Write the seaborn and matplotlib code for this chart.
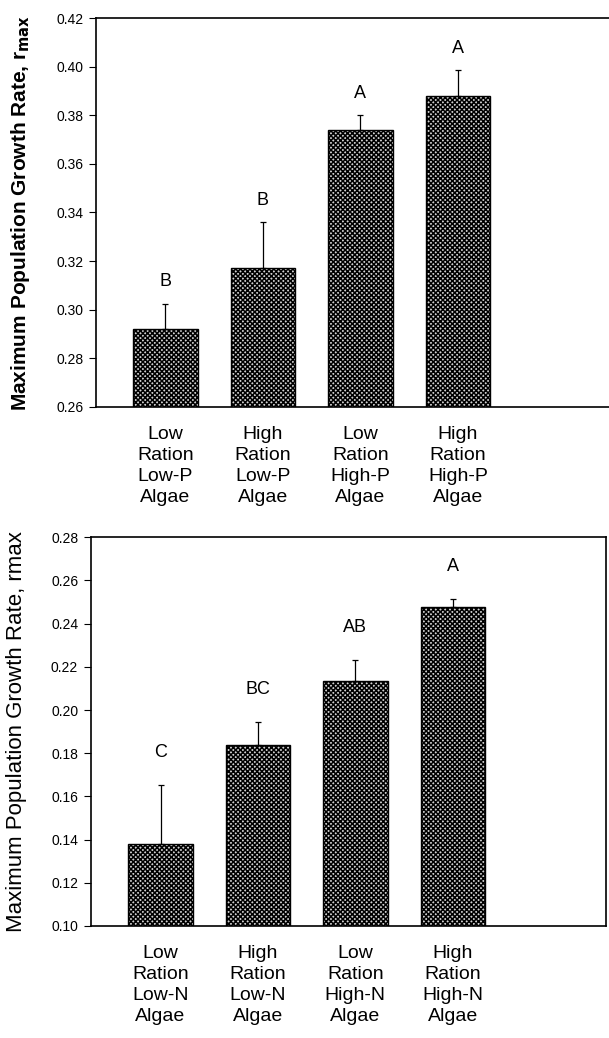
import matplotlib
matplotlib.use("Agg")
import matplotlib.pyplot as plt
import seaborn as sns

sns.set_style("white")
plt.rcParams['font.family'] = ['Liberation Sans', 'DejaVu Sans']
plt.rcParams['hatch.linewidth'] = 1.1
plt.rcParams['text.color'] = 'black'
plt.rcParams['axes.labelcolor'] = 'black'
plt.rcParams['xtick.color'] = 'black'
plt.rcParams['ytick.color'] = 'black'

# -----------------------------
# Data
# -----------------------------
p_labels = ["Low\nRation\nLow-P\nAlgae", "High\nRation\nLow-P\nAlgae",
            "Low\nRation\nHigh-P\nAlgae", "High\nRation\nHigh-P\nAlgae"]
p_rmax = [0.292, 0.317, 0.374, 0.388]
p_se = [0.0105, 0.019, 0.006, 0.0105]
p_groups = ["B", "B", "A", "A"]

n_labels = ["Low\nRation\nLow-N\nAlgae", "High\nRation\nLow-N\nAlgae",
            "Low\nRation\nHigh-N\nAlgae", "High\nRation\nHigh-N\nAlgae"]
n_rmax = [0.138, 0.184, 0.2135, 0.2475]
n_se = [0.0275, 0.0105, 0.0097, 0.0038]
n_groups = ["C", "BC", "AB", "A"]

fig = plt.figure(figsize=(6.09, 10.38), dpi=100)
ax1 = fig.add_axes([0.1576, 0.6082, 0.8424, 0.3742])
ax2 = fig.add_axes([0.1489, 0.1079, 0.8462, 0.3745])


def draw_panel(ax, labels, vals, errs, groups, ylim, yticks, letter_off, ylabel, bold, lsize, xlim):
    sns.barplot(x=labels, y=vals, ax=ax, color="#d0d0d0", edgecolor="black",
                linewidth=1.0, hatch="xxxxxxx", width=0.66, saturation=1)
    ax.errorbar(range(len(vals)), vals, yerr=[[0] * len(errs), errs], fmt="none",
                ecolor="black", elinewidth=0.9, capsize=2.5, capthick=0.9)
    for i, (v, e, g) in enumerate(zip(vals, errs, groups)):
        ax.text(i, v + e + letter_off, g, ha="center", va="center", fontsize=13)
    ax.set_ylim(*ylim)
    ax.set_xlim(*xlim)
    ax.set_yticks(yticks)
    ax.set_yticklabels([f"{t:.2f}" for t in yticks], fontsize=10)
    ax.tick_params(axis="y", direction="out", length=5, width=0.8, pad=4, left=True)
    ax.tick_params(axis="x", length=0, pad=14, labelsize=14)
    for lab in ax.get_xticklabels():
        lab.set_linespacing(1.3)
    ax.set_ylabel(ylabel, fontsize=lsize, fontweight="bold" if bold else "normal")
    for s in ax.spines.values():
        s.set_color("black")
        s.set_linewidth(1.2)


yt1 = [0.26, 0.28, 0.30, 0.32, 0.34, 0.36, 0.38, 0.40, 0.42]
draw_panel(ax1, p_labels, p_rmax, p_se, p_groups, (0.26, 0.42), yt1, 0.009,
           r"Maximum Population Growth Rate, r$_{\mathbf{max}}$", True, 15, (-0.713, 4.55))
ax1.spines["right"].set_visible(False)
ax1.yaxis.set_label_coords(-0.148, 0.5)

yt2 = [0.10, 0.12, 0.14, 0.16, 0.18, 0.20, 0.22, 0.24, 0.26, 0.28]
draw_panel(ax2, n_labels, n_rmax, n_se, n_groups, (0.10, 0.28), yt2, 0.015,
           "Maximum Population Growth Rate, rmax", False, 16, (-0.717, 4.573))
ax2.yaxis.set_label_coords(-0.143, 0.5)

for ax in (ax1, ax2):
    ax.yaxis.label.set_va("center")

plt.savefig("out.png", dpi=100)
